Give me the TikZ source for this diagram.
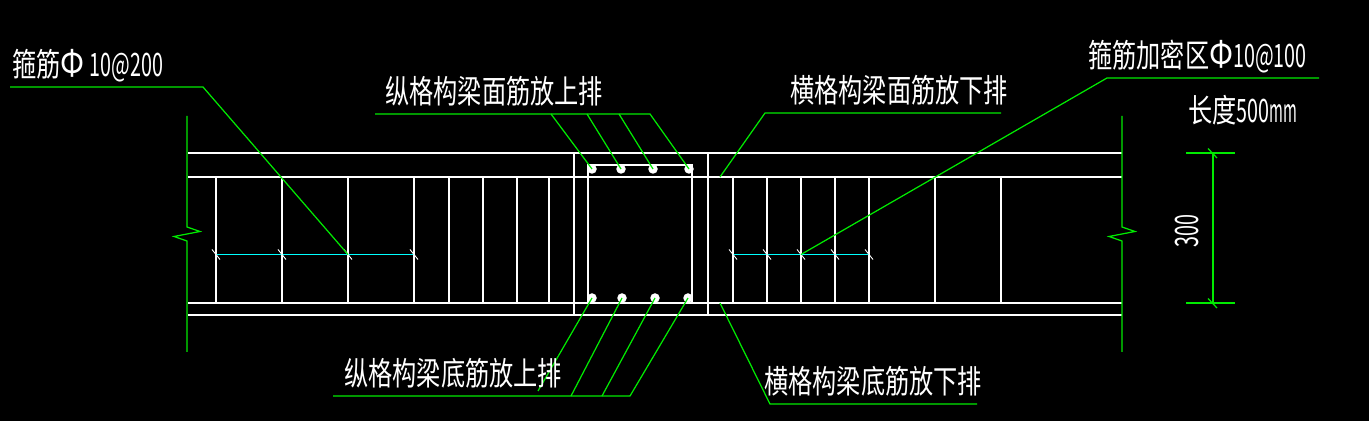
\documentclass[tikz,border=0pt]{standalone}
\usepackage{fontspec}
\newfontfamily\cadfont{Noto Sans CJK SC}
\definecolor{cadgreen}{RGB}{0,235,0}
\definecolor{cadcyan}{RGB}{0,255,255}
\newcommand{\cadtext}[1]{\scalebox{.81}[1.08]{\fontsize{17}{20}\cadfont #1}}
\newcommand{\cadnum}[1]{\scalebox{.66}[1.08]{\fontsize{17}{20}\cadfont #1}}
\newcommand{\cadphi}{\scalebox{1}[1.2]{\fontsize{17}{20}\cadfont Φ}}
\newcommand{\cadunit}{\scalebox{.5}[1.08]{\fontsize{17}{20}\cadfont mm}}
\tikzset{
  beam/.style={white,line width=.6pt},
  leader/.style={cadgreen,line width=.7pt},
  dimline/.style={cadcyan,line width=.6pt},
  tick/.style={white,line width=.5pt},
  label/.style={white,inner sep=0pt},
  rebar/.style={circle,fill=white,inner sep=0pt,minimum size=.19cm},
}
\begin{document}
\begin{tikzpicture}[x=.02cm,y=-.02cm]
        \fill [black](0,0) rectangle (1369,421);
        \useasboundingbox(0,0) rectangle (1369,421);
        % beam
        \foreach \y in {153,177,303,315}
            \draw [beam](188,\y)--(1122,\y);
        \foreach \x in {216,282,348,414,449,483,517,549,733,767,801,835,869,935,1001}
            \draw [beam](\x,177)--(\x,303);
        % column
        \draw [beam](574,153)--(574,315);
        \draw [beam](708,153)--(708,315);
        \draw [beam](588,165) rectangle (692,303);
        % rebars
        \foreach \n/\x in {1/592,2/621,3/653,4/689}
            \node [rebar] (top\n) at (\x,169) {};
        \foreach \n/\x in {1/592,2/622,3/655,4/688}
            \node [rebar] (bot\n) at (\x,298) {};
        % break lines
        \foreach \x in {187,1122}
            \draw [leader](\x,116)--(\x,227)--(\x+13,231.5)--(\x-13,236.5)--(\x,241)--(\x,352);
        % stirrup spacing
        \coordinate (spaceA) at (216,254.5);
        \coordinate (spaceB) at (414,254.5);
        \coordinate (spaceC) at (733,254.5);
        \coordinate (spaceD) at (869,254.5);
        \coordinate (stirrupA) at (348,254.5);
        \coordinate (stirrupB) at (801,254.5);
        \draw [dimline](spaceA)--(spaceB);
        \draw [dimline](spaceC)--(spaceD);
        \foreach \x in {216,282,348,414,733,767,801,835,869}
            \draw [tick](\x-4,249.5)--(\x+4,259.5);
        % leaders
        \coordinate (kneeA) at (10,87);
        \coordinate (kneeB) at (203,87);
        \draw [leader](kneeA)--(kneeB)--(stirrupA);
        \coordinate (kneeC) at (1319,78);
        \coordinate (kneeD) at (1107,78);
        \draw [leader](kneeC)--(kneeD)--(stirrupB);
        \coordinate (kneeE) at (375,114);
        \coordinate (kneeF) at (650,114);
        \draw [leader](kneeE)--(kneeF)--(top4.center);
        \draw [leader](551,114)--(top1.center);
        \draw [leader](587,114)--(top2.center);
        \draw [leader](619,114)--(top3.center);
        \coordinate (kneeG) at (1001,113);
        \coordinate (kneeH) at (765,113);
        \coordinate (kneeI) at (720,177);
        \draw [leader](kneeG)--(kneeH)--(kneeI);
        \coordinate (kneeJ) at (333,396);
        \coordinate (kneeK) at (630,396);
        \draw [leader](kneeJ)--(kneeK)--(bot4.center);
        \draw [leader](602,396)--(bot3.center);
        \draw [leader](571,396)--(bot2.center);
        \draw [leader](538,391)--(bot1.center);
        \coordinate (kneeL) at (977,404);
        \coordinate (kneeM) at (770,404);
        \coordinate (kneeN) at (720,303);
        \draw [leader](kneeL)--(kneeM)--(kneeN);
        % dimension
        \coordinate (dimA) at (1213,153);
        \coordinate (dimB) at (1213,303);
        \draw [leader](1186,153)--(1235,153);
        \draw [leader](1186,303)--(1235,303);
        \draw [leader](dimA)--(dimB);
        \draw [leader](1208,148.5)--(1217,158);
        \draw [leader](1208,298.5)--(1217,308);
        % labels
        \node [label,anchor=west] (stirrup) at (12,66) {\cadtext{箍筋}\cadphi\kern.1cm\cadnum{10@200}};
        \node [label,anchor=west] (dense) at (1088,57) {\cadtext{箍筋加密区}\cadphi\cadnum{10@100}};
        \node [label,anchor=west] (length) at (1188,110) {\cadtext{长度}\cadnum{500}\cadunit};
        \node [label,rotate=90] (height) at (1187,231) {\cadnum{300}};
        \node [label,anchor=west] (lengthTop) at (385,91) {\cadtext{纵格构梁面筋放上排}};
        \node [label,anchor=west] (crossTop) at (790,90) {\cadtext{横格构梁面筋放下排}};
        \node [label,anchor=west] (lengthBot) at (344,373) {\cadtext{纵格构梁底筋放上排}};
        \node [label,anchor=west] (crossBot) at (764,381) {\cadtext{横格构梁底筋放下排}};
    \end{tikzpicture}
\end{document}
